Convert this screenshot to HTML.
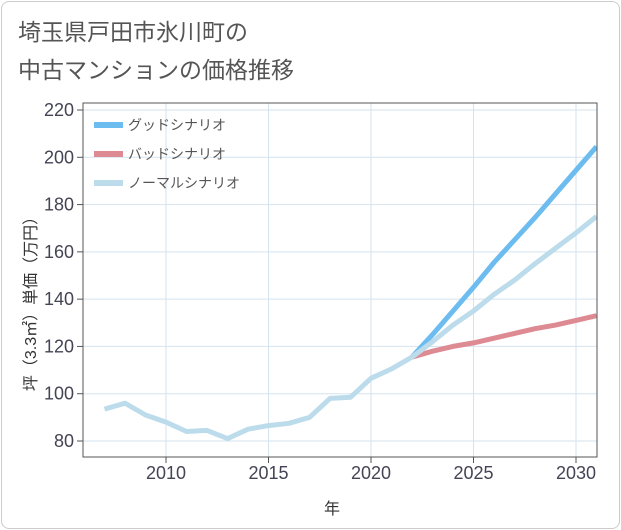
<!DOCTYPE html>
<html><head><meta charset="utf-8"><style>
body{margin:0;background:#fff;font-family:"Liberation Sans","Noto Sans CJK JP",sans-serif}
#card{position:absolute;left:1px;top:1px;width:617px;height:526px;border:1px solid #ccc;border-radius:8px;background:#fff}
</style></head><body>
<div id="card"></div>
<svg id="chart" width="621" height="530" style="position:absolute;left:0;top:0">
<text x="18" y="40" font-size="23" fill="#555" font-family="Liberation Sans,Noto Sans CJK JP,sans-serif">埼玉県戸田市氷川町の</text>
<text x="18" y="78" font-size="23" fill="#555" font-family="Liberation Sans,Noto Sans CJK JP,sans-serif">中古マンションの価格推移</text>
<g id="grid"></g><g id="axes"></g><g id="series"></g>
<rect x="83" y="103" width="514" height="354" fill="none" stroke="#555" stroke-width="1"/>
<text x="332" y="514" font-size="16" fill="#333" text-anchor="middle" font-family="Liberation Sans,Noto Sans CJK JP,sans-serif">年</text>
<text transform="translate(36,300) rotate(-90)" font-size="16" fill="#333" text-anchor="middle" font-family="Liberation Sans,Noto Sans CJK JP,sans-serif">坪（3.3㎡）単価（万円）</text>
<g id="legend"></g>
</svg>
<script>
const years=[2007,2008,2009,2010,2011,2012,2013,2014,2015,2016,2017,2018,2019,2020,2021,2022,2023,2024,2025,2026,2027,2028,2029,2030,2031];
const normal=[93.5,96,91,88,84,84.5,81,85,86.5,87.5,90,98,98.5,106.5,110.5,115.5,122,129,135,142,148,155,161.5,168,175];
const goodYears=[2022,2023,2024,2025,2026,2027,2028,2029,2030,2031];
const good=[115.5,125,135,145,155.5,165,174.5,184.5,194.5,204.5];
const bad=[115.5,118,120,121.5,123.5,125.5,127.5,129,131,133];
const yTicks=[80,100,120,140,160,180,200,220];
const xTicks=[2010,2015,2020,2025,2030];
const legendNames=["グッドシナリオ","バッドシナリオ","ノーマルシナリオ"];
const X=v=>166+(v-2010)*20.5;
const Y=v=>441-(v-80)*(331/140);
const NS="http://www.w3.org/2000/svg";
function mk(t,p,parent){const e=document.createElementNS(NS,t);for(const k in p)e.setAttribute(k,p[k]);document.getElementById(parent).appendChild(e);return e;}
yTicks.forEach(v=>{
 const l=mk('line',{x1:83,x2:597,y1:Y(v),y2:Y(v),stroke:'#d5e3ee','stroke-width':1},'grid');
 
 
 const tk=mk('line',{x1:77,x2:83,y1:Y(v),y2:Y(v),stroke:'#555'},'axes');
 
 
 const t=mk('text',{x:74,y:Y(v)+6,'font-size':18,fill:'#445','text-anchor':'end'},'axes');
 t.textContent=v;
 
 
});
xTicks.forEach(v=>{
 const l=mk('line',{x1:X(v),x2:X(v),y1:103,y2:457,stroke:'#d5e3ee'},'grid');
 
 
 const tk=mk('line',{x1:X(v),x2:X(v),y1:457,y2:463,stroke:'#555'},'axes');
 
 
 const t=mk('text',{x:X(v),y:479,'font-size':18,fill:'#445','text-anchor':'middle'},'axes');
 t.textContent=v;
 
 
});
function line(xs,ys,color,name){
 const d=xs.map((x,i)=>(i?'L':'M')+X(x).toFixed(1)+','+Y(ys[i]).toFixed(1)).join('');
 const p=mk('path',{d:d,fill:'none',stroke:color,'stroke-width':5,'stroke-linejoin':'round'},'series');
 
 
}
const cp=mk('clipPath',{id:'clip'},'series');const cr=document.createElementNS(NS,'rect');cr.setAttribute('x',83);cr.setAttribute('y',103);cr.setAttribute('width',514);cr.setAttribute('height',354);cp.appendChild(cr);
document.getElementById('series').setAttribute('clip-path','url(#clip)');
line(goodYears,good,'#6cbcf0','good-scenario-line');
line(goodYears,bad,'#de8a92','bad-scenario-line');
line(years,normal,'#bcdcec','normal-scenario-line');
const lc=['#6cbcf0','#de8a92','#bcdcec'];
legendNames.forEach((n,i)=>{
 const y=125+i*29;
 const r=mk('rect',{x:94,y:y-3,width:29,height:6,fill:lc[i]},'legend');
 
 
 const t=mk('text',{x:128,y:y+5,'font-size':14,fill:'#555'},'legend');
 t.textContent=n;
 
 
});
</script>
</body></html>
